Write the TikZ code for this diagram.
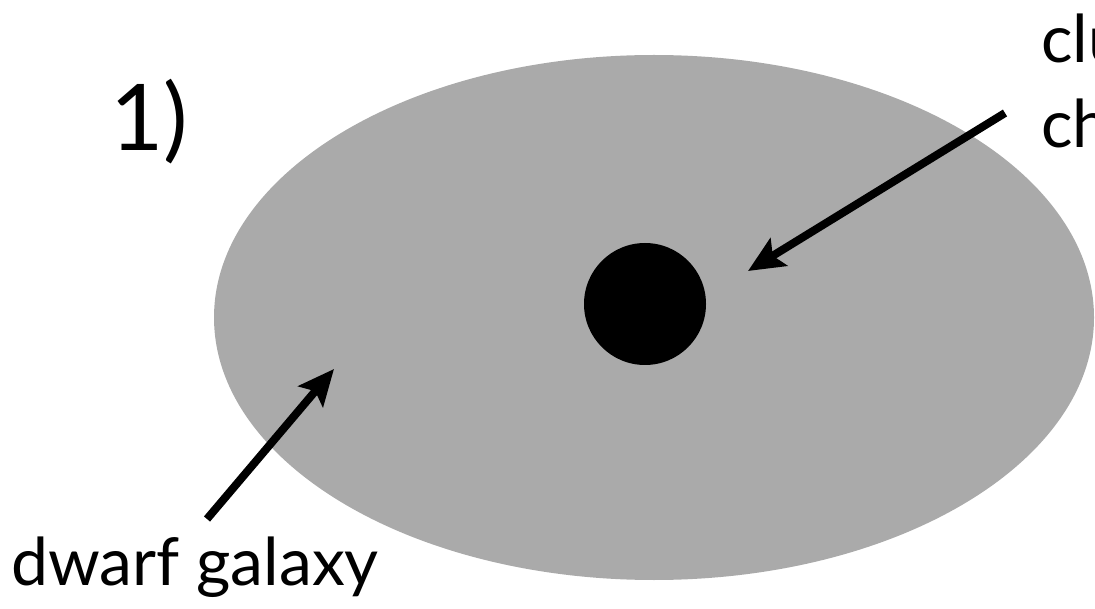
\documentclass[tikz,border=0pt]{standalone}
\usepackage{fontspec}
\setmainfont{Lato}
\usetikzlibrary{arrows.meta}
\definecolor{galaxygray}{HTML}{AAAAAA}
\begin{document}
\begin{tikzpicture}[x=1pt,y=-1pt,
  label/.style={inner sep=0pt, anchor=base west, font=\fontsize{66}{78}\selectfont},
  pointer/.style={line width=8pt, -{Stealth[length=36pt, width=32pt, inset=7pt]}}]
\useasboundingbox (0,0) rectangle (1095,609);
\clip (0,0) rectangle (1095,609);
\fill[galaxygray] (654,317.5) ellipse [x radius=440, y radius=262.5];
\node[circle, fill=black, minimum size=122pt, inner sep=0pt] (cluster) at (645,304) {};
\node[inner sep=0pt, anchor=base west, font=\fontsize{92}{100}\selectfont] (num) at (110,151) {1)};
\node[label] (clu) at (1041,63) {clu};
\node[label] (ch) at (1041,148) {ch};
\node[label] (dwarf) at (11,585) {dwarf galaxy};
\coordinate (t1) at (1005,113);
\coordinate (h1) at (748,271);
\coordinate (t2) at (207,519);
\coordinate (h2) at (334,369);
\draw[pointer] (t1) -- (h1);
\draw[pointer] (t2) -- (h2);
\end{tikzpicture}
\end{document}
